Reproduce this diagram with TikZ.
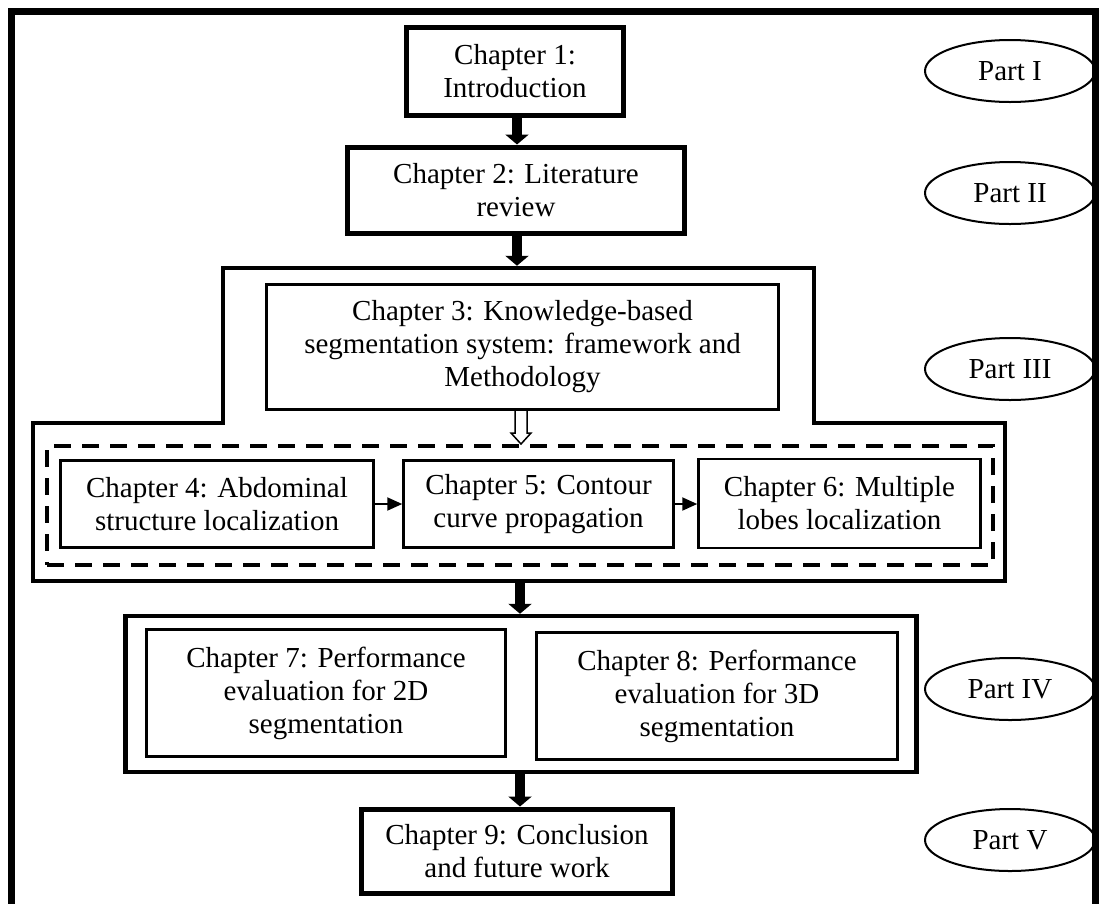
\documentclass[tikz,border=0pt]{standalone}
\usepackage{fontspec}
\setmainfont{Liberation Serif}
\usetikzlibrary{arrows.meta,calc,shapes.geometric}
\begin{document}
\begin{tikzpicture}[x=1pt,y=-1pt,
  every node/.style={font=\fontsize{29}{33}\selectfont, align=center, inner sep=0pt},
  thickbox/.style={draw, line width=5pt},
  thinbox/.style={draw, line width=2.5pt},
  groupline/.style={line width=4.5pt},
  partell/.style={ellipse, draw, line width=2pt, minimum width=170pt, minimum height=62pt},
  bigarrow/.style={line width=10pt, -{Triangle[width=23pt,length=10pt]}},
  smallarrow/.style={line width=2pt, -{Triangle[width=13pt,length=15pt]}},
  dashbox/.style={draw, line width=4pt, dash pattern=on 17pt off 11pt}
]
\useasboundingbox (0,0) rectangle (1099,903);
\clip (0,0) rectangle (1099,903);
% outer frame
\draw[line width=6.5pt] (11.5,940) -- (11.5,11.5) -- (1095.5,11.5) -- (1095.5,940);

% chapters 1 and 2
\node[thickbox, minimum width=217pt, minimum height=88pt] (ch1) at (515,71) {Chapter 1:\\Introduction};
\node[thickbox, minimum width=337pt, minimum height=86pt] (ch2) at (516,190) {Chapter 2: Literature\\review};

% Part III group outline
\coordinate (g1) at (223,268);
\coordinate (g2) at (814,268);
\coordinate (g3) at (814,423);
\coordinate (g4) at (1005,423);
\coordinate (g5) at (1005,581);
\coordinate (g6) at (33,581);
\coordinate (g7) at (33,423);
\coordinate (g8) at (223,423);
\draw[groupline] (g1) -- (g2) -- (g3) -- (g4) -- (g5) -- (g6) -- (g7) -- (g8) -- cycle;
\coordinate (p3in) at (517,265.75);
\coordinate (p3out) at (520,583.25);

\node[draw, line width=3pt, minimum width=512pt, minimum height=125pt] (ch3) at (522.5,347) {Chapter 3: Knowledge-based\\segmentation system: framework and\\Methodology};

\node[dashbox, minimum width=946pt, minimum height=119.5pt] (dbox) at (520.25,505.25) {};

\node[thinbox, minimum width=313pt, minimum height=87pt] (ch4) at (217,504) {Chapter 4: Abdominal\\structure localization};
\node[thinbox, minimum width=270pt, minimum height=87pt] (ch5) at (538.5,504) {Chapter 5: Contour\\curve propagation};
\node[thinbox, minimum width=282pt, minimum height=89pt] (ch6) at (839.5,503.5) {Chapter 6: Multiple\\lobes localization};

% Part IV group
\node[draw, line width=4.5pt, minimum width=791pt, minimum height=156pt] (p4) at (520.75,694) {};
\node[thinbox, minimum width=359pt, minimum height=127pt] (ch7) at (326,693) {Chapter 7: Performance\\evaluation for 2D\\segmentation};
\node[thinbox, minimum width=361pt, minimum height=127pt] (ch8) at (717,696) {Chapter 8: Performance\\evaluation for 3D\\segmentation};

\node[thickbox, minimum width=311pt, minimum height=84pt] (ch9) at (517,851) {Chapter 9: Conclusion\\and future work};

% parts
\node[partell] (pI) at (1010,71) {Part I};
\node[partell] (pII) at (1010,193) {Part II};
\node[partell] (pIII) at (1010,369) {Part III};
\node[partell] (pIV) at (1010,689) {Part IV};
\node[partell] (pV) at (1010,840) {Part V};

% connectors
\draw[bigarrow] (ch1.south -| p3in) -- (ch2.north -| p3in);
\draw[bigarrow] (ch2.south -| p3in) -- (p3in);
\draw[bigarrow] (p3out) -- (p3out |- p4.north);
\draw[bigarrow] (p4.south -| p3out) -- (ch9.north -| p3out);
\draw[smallarrow] (ch4.east) -- (ch5.west);
\draw[smallarrow] (ch5.east) -- (ch5.east -| ch6.west);
% hollow arrow from chapter 3 into the dashed group
\draw[line width=1.5pt, fill=white, line join=miter]
  ($(ch3.south)+(-7.5,0)$) -- ($(ch3.south)+(-7.5,22)$) -- ($(ch3.south)+(-11.5,22)$)
  -- ($(ch3.south)+(-1.5,33)$) -- ($(ch3.south)+(8.5,22)$) -- ($(ch3.south)+(4.5,22)$)
  -- ($(ch3.south)+(4.5,0)$);
\end{tikzpicture}
\end{document}
